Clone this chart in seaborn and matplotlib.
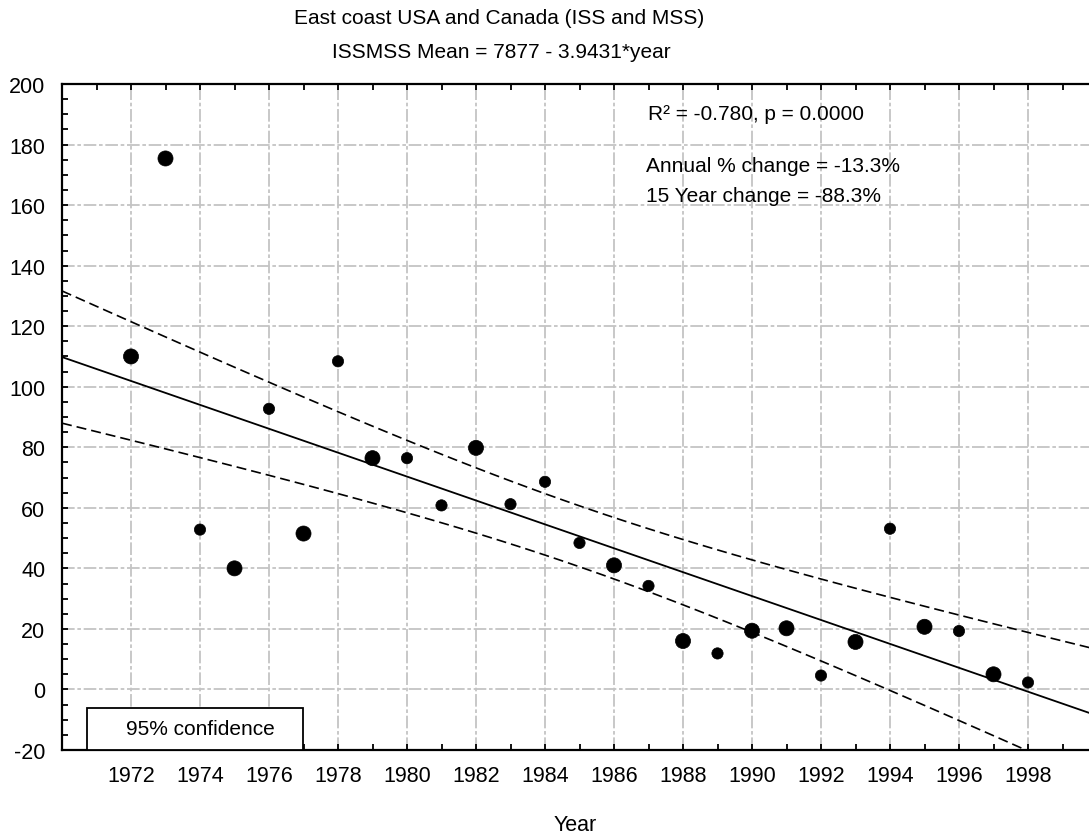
import numpy as np
import pandas as pd
import matplotlib
matplotlib.use('Agg')
import matplotlib.pyplot as plt
import seaborn as sns
from matplotlib.patches import Rectangle
from matplotlib.ticker import FixedLocator, MultipleLocator

# ISS/MSS yearly mean, east coast USA and Canada
years = [1972, 1973, 1974, 1975, 1976, 1977, 1978, 1979, 1980, 1981, 1982, 1983, 1984, 1985,
         1986, 1987, 1988, 1989, 1990, 1991, 1992, 1993, 1994, 1995, 1996, 1997, 1998]
issmss_mean = [110.0, 175.4, 52.8, 40.0, 92.7, 51.5, 108.4, 76.4, 76.4, 60.8, 79.8, 61.2, 68.6, 48.4,
               41.0, 34.2, 16.0, 11.9, 19.4, 20.2, 4.6, 15.7, 53.1, 20.7, 19.3, 5.0, 2.3]
year_ticks = [1972, 1974, 1976, 1978, 1980, 1982, 1984, 1986, 1988, 1990, 1992, 1994, 1996, 1998]
y_ticks = [-20, 0, 20, 40, 60, 80, 100, 120, 140, 160, 180, 200]

# years that show up with a heavier marker in the original
big_years = [1972, 1973, 1975, 1977, 1979, 1982, 1986, 1988, 1990, 1991, 1993, 1995, 1997]

df = pd.DataFrame({'year': years, 'mean': issmss_mean})
df['marker'] = np.where(df['year'].isin(big_years), 'big', 'small')

# linear fit + 95% confidence band of the mean
slope, intercept = np.polyfit(df['year'], df['mean'], 1)
n = len(df)
resid = df['mean'] - (intercept + slope * df['year'])
s = np.sqrt((resid ** 2).sum() / (n - 2))
xbar = df['year'].mean()
sxx = ((df['year'] - xbar) ** 2).sum()
t95 = 2.06
xfit = np.linspace(1970, 2000, 121)
yfit = intercept + slope * xfit
half = t95 * s * np.sqrt(1 / n + (xfit - xbar) ** 2 / sxx)

sns.set_theme(style='ticks')
plt.rcParams['font.family'] = ['Liberation Sans', 'DejaVu Sans']
plt.rcParams['axes.unicode_minus'] = False
for key in ['text.color', 'axes.labelcolor', 'xtick.color', 'ytick.color']:
    plt.rcParams[key] = 'black'

W, H = 1089, 837
fig = plt.figure(figsize=(W / 100, H / 100), dpi=100)
ax = fig.add_axes([62 / W, 1 - 751 / H, (W - 62) / W, 666 / H])

ax.plot(xfit, yfit, color='black', lw=1.3, zorder=3)
ax.plot(xfit, yfit + half, color='black', lw=1.2, ls=(0, (6, 3)), zorder=3)
ax.plot(xfit, yfit - half, color='black', lw=1.2, ls=(0, (6, 3)), zorder=3)

sns.scatterplot(data=df, x='year', y='mean', size='marker', sizes={'big': 118, 'small': 66},
                color='black', edgecolor='black', linewidth=0.5, legend=False, ax=ax, zorder=4)

ax.set_xlim(1970, 1970 + (W - 62) / 34.5)
ax.set_ylim(-20, 200)
ax.xaxis.set_major_locator(FixedLocator(year_ticks))
ax.xaxis.set_minor_locator(MultipleLocator(1))
ax.yaxis.set_major_locator(FixedLocator(y_ticks))
ax.yaxis.set_minor_locator(MultipleLocator(5))

ax.grid(True, which='major', color='#c4c4c4', lw=1.3, ls=(0, (7, 1.5, 2, 1.5)))
ax.set_axisbelow(True)

ax.tick_params(axis='both', which='both', direction='in', length=4, width=1.3, colors='black')
ax.tick_params(axis='x', which='both', top=True, bottom=True, labelsize=15.5, pad=11)
ax.tick_params(axis='y', which='both', left=True, right=False, labelsize=15.5, pad=12)

for side in ['left', 'bottom', 'top']:
    ax.spines[side].set_linewidth(1.6)
    ax.spines[side].set_color('black')
ax.spines['right'].set_visible(False)

ax.set_xlabel('Year', fontsize=15.5, labelpad=20)
ax.set_ylabel('')

# confidence legend box
aw, ah = W - 62, 666
ax.add_patch(Rectangle((25 / aw, 0), 216 / aw, 42 / ah, transform=ax.transAxes,
                       facecolor='white', edgecolor='black', lw=1.3, zorder=5))
ax.text(138 / aw, 21 / ah, '95% confidence', transform=ax.transAxes, ha='center', va='center',
        fontsize=15, zorder=6)

fig.text(499 / W, 1 - 18 / H, 'East coast USA and Canada (ISS and MSS)', ha='center', va='center', fontsize=15)
fig.text(501 / W, 1 - 53 / H, 'ISSMSS Mean = 7877 - 3.9431*year', ha='center', va='center', fontsize=15)

fig.text(648 / W, 1 - 115 / H, 'R\u00b2 = -0.780, p = 0.0000', ha='left', va='center', fontsize=15)
fig.text(646 / W, 1 - 167 / H, 'Annual % change = -13.3%', ha='left', va='center', fontsize=15)
fig.text(646 / W, 1 - 197 / H, '15 Year change = -88.3%', ha='left', va='center', fontsize=15)

fig.savefig('out.png', dpi=100)
